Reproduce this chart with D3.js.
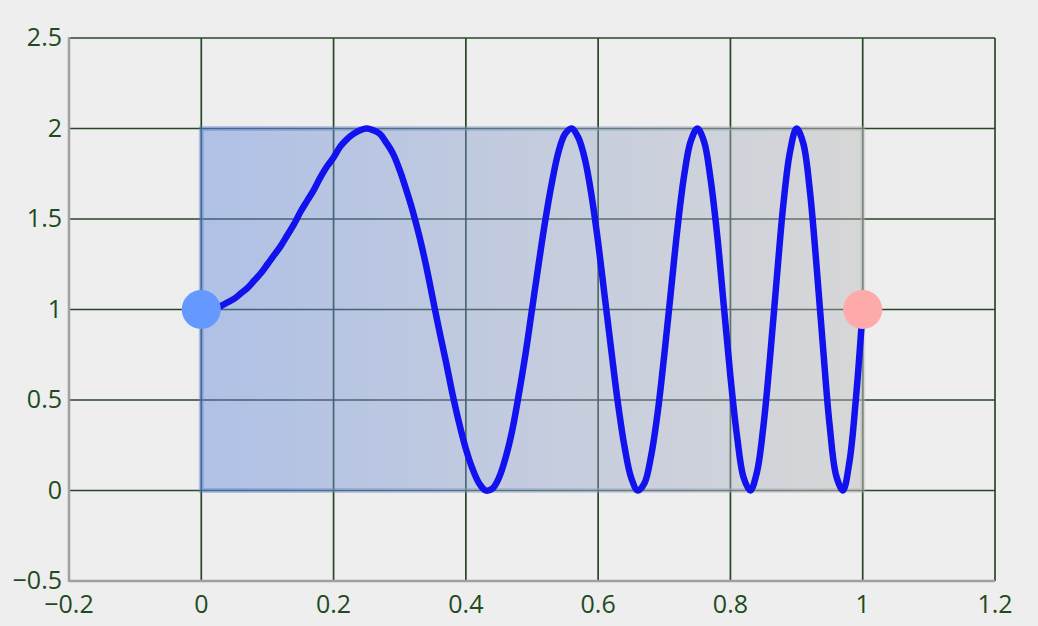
<!DOCTYPE html>
<html><head><meta charset="utf-8">
<script src="https://cdn.jsdelivr.net/npm/d3@7"></script>
<style>body{margin:0;background:#eeeeee;}svg{display:block;}</style>
</head><body>
<svg id="c" width="1038" height="626"></svg>
<script>
const xTicks = [-0.2, 0, 0.2, 0.4, 0.6, 0.8, 1, 1.2];
const yTicks = [-0.5, 0, 0.5, 1, 1.5, 2, 2.5];
const curveX = [0,0.01,0.02,0.03,0.04,0.05,0.06,0.07,0.08,0.09,0.10,0.11,0.12,0.13,0.14,0.15,0.16,0.17,0.18,0.19,0.20,0.21,0.22,0.23,0.24,0.25,0.26,0.27,0.28,0.29,0.30,0.31,0.32,0.33,0.34,0.35,0.36,0.37,0.38,0.39,0.40,0.41,0.42,0.43,0.44,0.45,0.46,0.47,0.48,0.49,0.50,0.51,0.52,0.53,0.54,0.55,0.56,0.57,0.58,0.59,0.60,0.61,0.62,0.63,0.64,0.65,0.66,0.67,0.68,0.69,0.70,0.71,0.72,0.73,0.74,0.75,0.76,0.77,0.78,0.79,0.80,0.81,0.82,0.83,0.84,0.85,0.86,0.87,0.88,0.89,0.90,0.91,0.92,0.93,0.94,0.95,0.96,0.97,0.98,0.99,1.00];
const curveY = [1.00,1.00,1.01,1.02,1.04,1.06,1.09,1.12,1.16,1.20,1.25,1.30,1.35,1.41,1.47,1.54,1.60,1.66,1.73,1.79,1.84,1.90,1.94,1.97,1.99,2.00,1.99,1.97,1.92,1.86,1.77,1.66,1.54,1.40,1.24,1.06,0.88,0.71,0.53,0.37,0.23,0.12,0.04,0.00,0.01,0.07,0.18,0.33,0.53,0.75,1.00,1.25,1.49,1.70,1.87,1.97,2.00,1.95,1.83,1.63,1.37,1.07,0.77,0.48,0.24,0.07,0.00,0.04,0.19,0.43,0.75,1.10,1.45,1.74,1.93,2.00,1.93,1.72,1.41,1.02,0.63,0.30,0.07,0.00,0.10,0.36,0.74,1.17,1.58,1.87,2.00,1.92,1.66,1.25,0.79,0.36,0.08,0.00,0.16,0.52,1.00];
const rectX = [0, 1];
const rectY = [0, 2];
const startPoint = [0, 1];
const endPoint = [1, 1];

const svg = d3.select("#c");
const x = d3.scaleLinear().domain([-0.2, 1.2]).range([69, 995]);
const y = d3.scaleLinear().domain([-0.5, 2.5]).range([581, 38]);
const fmt = d => d < 0 ? "\u2212" + Math.abs(d) : String(d);

const defs = svg.append("defs");
const g = defs.append("linearGradient").attr("id","rg").attr("x1","0%").attr("x2","100%").attr("y1","0%").attr("y2","0%");
g.append("stop").attr("offset","0%").attr("stop-color","rgb(90,130,218)").attr("stop-opacity",0.42);
g.append("stop").attr("offset","100%").attr("stop-color","rgb(183,183,183)").attr("stop-opacity",0.42);

// grid
svg.append("g").selectAll("line").data(xTicks).join("line")
  .attr("x1", d=>x(d)).attr("x2", d=>x(d)).attr("y1", y(-0.5)).attr("y2", y(2.5))
  .attr("stroke","#274727").attr("stroke-width",1.7);
svg.append("g").selectAll("line").data(yTicks).join("line")
  .attr("y1", d=>y(d)).attr("y2", d=>y(d)).attr("x1", x(-0.2)).attr("x2", x(1.2))
  .attr("stroke","#274727").attr("stroke-width",1.7);

// axis lines
svg.append("line").attr("x1",x(-0.2)).attr("x2",x(-0.2)).attr("y1",y(2.5)-1).attr("y2",y(-0.5)+1)
  .attr("stroke","#a0a0a0").attr("stroke-width",2.5);
svg.append("line").attr("x1",x(-0.2)).attr("x2",x(1.2)).attr("y1",y(-0.5)).attr("y2",y(-0.5))
  .attr("stroke","#a0a0a0").attr("stroke-width",2.5);

// rectangle
svg.append("rect")
  .attr("x", x(rectX[0])).attr("y", y(rectY[1]))
  .attr("width", x(rectX[1]) - x(rectX[0])).attr("height", y(rectY[0]) - y(rectY[1]))
  .attr("fill","url(#rg)").attr("stroke","url(#rg)").attr("stroke-width",5);

// curve
const pts = curveX.map((d,i)=>[d, curveY[i]]);
svg.append("path").datum(pts)
  .attr("d", d3.line().x(d=>x(d[0])).y(d=>y(d[1])).curve(d3.curveCatmullRom))
  .attr("fill","none").attr("stroke","#1212ee").attr("stroke-width",6.5)
  .attr("stroke-linejoin","round").attr("stroke-linecap","round");

// points
svg.append("circle").attr("cx",x(startPoint[0])).attr("cy",y(startPoint[1])).attr("r",19.5).attr("fill","#6699ff");
svg.append("circle").attr("cx",x(endPoint[0])).attr("cy",y(endPoint[1])).attr("r",19.5).attr("fill","#ffaaaa");

// tick labels
svg.append("g").selectAll("text").data(yTicks).join("text")
  .attr("x", 62).attr("y", d=>y(d)).attr("dy","0.32em").attr("text-anchor","end")
  .attr("font-family","Open Sans, sans-serif").attr("font-size",25).attr("fill","#1f4a22")
  .text(fmt);
svg.append("g").selectAll("text").data(xTicks).join("text")
  .attr("x", d=>x(d)).attr("y", 604).attr("dy","0.36em").attr("text-anchor","middle")
  .attr("font-family","Open Sans, sans-serif").attr("font-size",25).attr("fill","#1f4a22")
  .text(fmt);
</script>
</body></html>
